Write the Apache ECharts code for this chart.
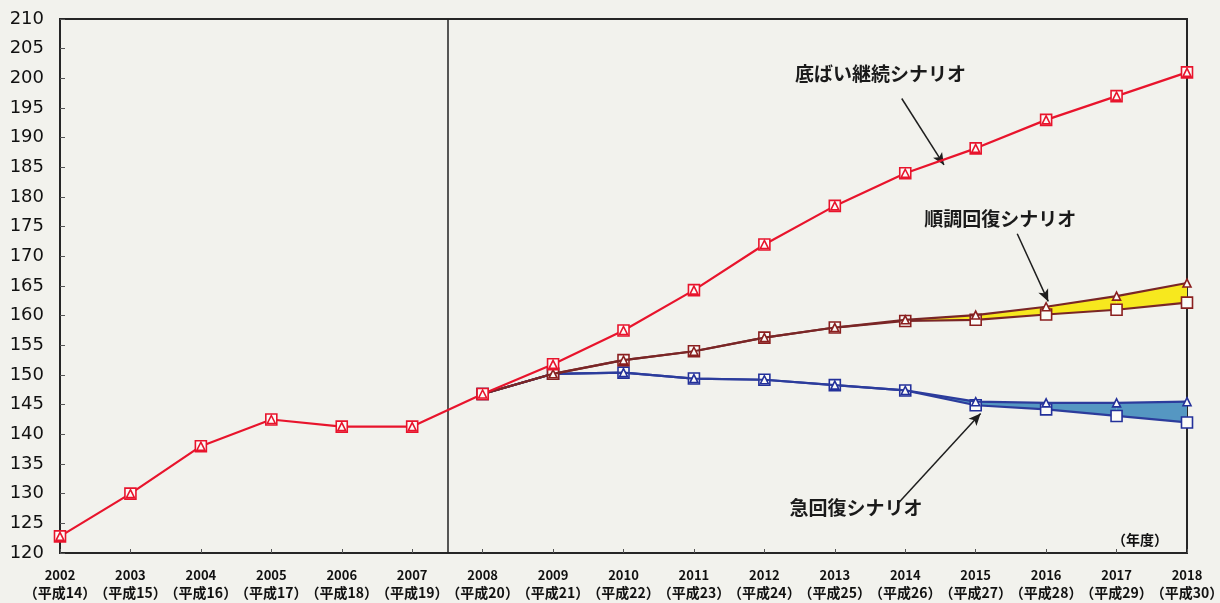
<!DOCTYPE html>
<html><head><meta charset="utf-8">
<script src="https://cdn.jsdelivr.net/npm/echarts@6/dist/echarts.min.js"></script>
<style>html,body{margin:0;padding:0;background:#f2f2ed;}#c{width:1220px;height:603px;}</style>
</head><body><div id="c"></div>
<script>
// ---- data ----
const years = [2002,2003,2004,2005,2006,2007,2008,2009,2010,2011,2012,2013,2014,2015,2016,2017,2018];
const eraLabels = ['平成14','平成15','平成16','平成17','平成18','平成19','平成20','平成21','平成22','平成23','平成24','平成25','平成26','平成27','平成28','平成29','平成30'];
const yTicks = [120,125,130,135,140,145,150,155,160,165,170,175,180,185,190,195,200,205,210];
// 底ばい継続シナリオ
const flatTrend = [122.8,130.0,138.0,142.5,141.3,141.3,146.8,151.8,157.5,164.3,172.0,178.5,184.0,188.2,193.0,197.0,201.0];
// 順調回復シナリオ (triangle / square variants)
const steadyTri = [null,null,null,null,null,null,146.8,150.2,152.5,154.0,156.3,158.0,159.3,160.1,161.5,163.3,165.5];
const steadySq  = [null,null,null,null,null,null,146.8,150.2,152.5,154.0,156.3,158.0,159.1,159.3,160.2,161.0,162.2];
// 急回復シナリオ (triangle / square variants)
const rapidTri = [null,null,null,null,null,null,146.8,150.2,150.4,149.4,149.2,148.3,147.4,145.5,145.3,145.3,145.5];
const rapidSq  = [null,null,null,null,null,null,146.8,150.2,150.4,149.4,149.2,148.3,147.4,144.9,144.2,143.1,142.0];

const labels = [
  {text:'底ばい継続シナリオ', at:[2013.65, 200.8], arrowFrom:[2013.95,196.6], arrowTo:[2014.55,185.4]},
  {text:'順調回復シナリオ', at:[2015.35, 176.3], arrowFrom:[2015.59,173.8], arrowTo:[2016.03,162.4]},
  {text:'急回復シナリオ', at:[2013.3, 127.6], arrowFrom:[2013.9,128.4], arrowTo:[2015.07,143.5]}
];

const pairs = arr => years.map((y,i)=>[y, arr[i]]);

function band(upper, lower, color){
  return {
    type:'custom', z:1, silent:true,
    data: years.map((y,i)=>[y, lower[i]==null?flatTrend[i]:lower[i], i]),
    encode:{x:0,y:1},
    renderItem:(params, api)=>{
      const i = api.value(2);
      if(i===0 || upper[i]==null || upper[i-1]==null) return;
      const pts = [
        api.coord([years[i-1], upper[i-1]]), api.coord([years[i], upper[i]]),
        api.coord([years[i], lower[i]]), api.coord([years[i-1], lower[i-1]])
      ];
      return {type:'polygon', shape:{points:pts}, style:{fill:color}};
    }
  };
}
function lineSeries(arr, color, markColor, symbol, size, z){
  return {
    type:'line', data:pairs(arr), z:z, connectNulls:false,
    symbol:symbol, symbolSize:size, showAllSymbol:true,
    lineStyle:{color:color, width:2.2},
    itemStyle:{color:'#fbfbf8', borderColor:markColor, borderWidth:1.6},
    emphasis:{disabled:true}, animation:false
  };
}

const chart = echarts.init(document.getElementById('c'));
const annoFont = {fontFamily:'"Noto Sans CJK JP"', fontSize:19, fontWeight:'bold', color:'#1a1a1a'};

chart.setOption({
  backgroundColor:'#f2f2ed',
  animation:false,
  grid:{left:60, right:33, top:19, bottom:50, show:true, borderColor:'#262626', borderWidth:2, backgroundColor:'transparent', outerBoundsMode:'none', containLabel:false},
  xAxis:[{
    type:'value', min:2002, max:2018, interval:1,
    axisLine:{show:true, lineStyle:{color:'#262626', width:2}},
    axisTick:{show:true, inside:true, length:4, lineStyle:{color:'#555'}},
    splitLine:{show:false},
    axisLabel:{show:false}
  },{
    type:'category', data:years, boundaryGap:false, position:'bottom',
    axisLine:{show:false}, axisTick:{show:false}, splitLine:{show:false},
    axisLabel:{
      interval:0, margin:14, color:'#111',
      formatter:(v, idx)=>'{y|'+years[idx]+'}\n{e|（'+eraLabels[idx]+'）}',
      rich:{
        y:{fontSize:13, fontWeight:'bold', fontFamily:'"Noto Sans CJK JP"', lineHeight:17, color:'#111'},
        e:{fontSize:14, fontWeight:'bold', fontFamily:'"Noto Sans CJK JP"', lineHeight:17, color:'#111'}
      }
    }
  }],
  yAxis:{
    type:'value', min:yTicks[0], max:yTicks[yTicks.length-1], interval:5,
    axisLine:{show:true, lineStyle:{color:'#262626', width:2}},
    axisTick:{show:true, inside:true, length:5, lineStyle:{color:'#555'}},
    splitLine:{show:false},
    axisLabel:{margin:16, color:'#111', fontSize:18, fontFamily:'"DejaVu Sans"', fontWeight:'normal', showMinLabel:true, showMaxLabel:true}
  },
  graphic:[{type:'text', right:52, bottom:56, style:{text:'（年度）', font:'bold 14px "Noto Sans CJK JP"', fill:'#111'}}],
  series:[
    band(steadyTri, steadySq, '#f7e81e'),
    band(rapidTri, rapidSq, '#5597c2'),
    lineSeries(rapidSq, '#2c3c9c', '#23309a', 'rect', 11, 3),
    lineSeries(rapidTri, '#2c3c9c', '#23309a', 'triangle', 8, 4),
    lineSeries(steadySq, '#7a2626', '#8a1f1f', 'rect', 11, 5),
    lineSeries(steadyTri, '#7a2626', '#8a1f1f', 'triangle', 8, 6),
    Object.assign(lineSeries(flatTrend, '#e8142c', '#e8142c', 'rect', 11, 7), {
      markLine:{
        silent:true, symbol:['none','none'], label:{show:false},
        lineStyle:{color:'#222', width:1.5, type:'solid'},
        data:[{xAxis:2007.5}]
      }
    }),
    Object.assign(lineSeries(flatTrend, 'transparent', '#e8142c', 'triangle', 8, 8), {
      lineStyle:{width:0},
      markLine:{
        silent:true, symbol:['none','arrow'], symbolSize:[8,12], label:{show:false},
        lineStyle:{color:'#1e1e1e', width:1.5, type:'solid'},
        data: labels.map(l=>[{coord:l.arrowFrom},{coord:l.arrowTo}])
      },
      markPoint:{
        silent:true, symbol:'circle', symbolSize:1, itemStyle:{color:'rgba(0,0,0,0)'},
        label:Object.assign({show:true, position:'inside', formatter:p=>p.name}, annoFont),
        data: labels.map(l=>({name:l.text, coord:l.at}))
      }
    })
  ]
});
</script></body></html>
